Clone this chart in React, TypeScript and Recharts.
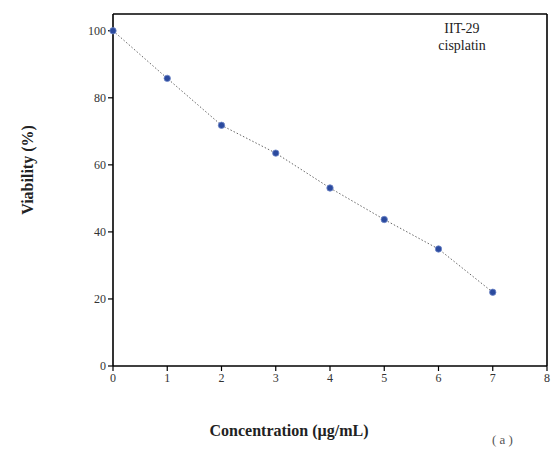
import { ComposedChart, Line, XAxis, YAxis, ReferenceLine } from 'recharts';

const concentrations = [0, 1, 2, 3, 4, 5, 6, 7];
const viability = [100, 85.8, 71.8, 63.5, 53.1, 43.7, 34.9, 22];
const xTicks = [0, 1, 2, 3, 4, 5, 6, 7, 8];
const yTicks = [0, 20, 40, 60, 80, 100];

const data = concentrations.map((c, i) => ({ c, v: viability[i] }));

const SERIF = '"Liberation Serif", "DejaVu Serif", serif';

function Dot(props: any) {
  const { cx, cy } = props;
  if (cx == null || cy == null) return null;
  return <circle cx={cx} cy={cy} r={3.2} fill="#2b4a9e" stroke="#6f86c8" strokeWidth={0.8} />;
}

export default function App() {
  return (
    <div style={{ position: 'absolute', left: 0, top: 0, width: 553, height: 451, background: '#fff', fontFamily: SERIF }}>
      <ComposedChart
        width={553}
        height={451}
        data={data}
        margin={{ top: 14, right: 6, bottom: 55, left: 53 }}
      >
        <XAxis
          type="number"
          dataKey="c"
          domain={[0, 8]}
          ticks={xTicks}
          interval={0}
          height={30}
          axisLine={{ stroke: '#000', strokeWidth: 1.6 }}
          tickLine={{ stroke: '#000', strokeWidth: 1.2 }}
          tickSize={5}
          tick={{ fontSize: 12, fill: '#333', fontFamily: SERIF }}
        />
        <YAxis
          type="number"
          domain={[0, 105]}
          ticks={yTicks}
          interval={0}
          width={60}
          axisLine={{ stroke: '#000', strokeWidth: 1.6 }}
          tickLine={{ stroke: '#000', strokeWidth: 1.2 }}
          tickSize={5}
          tick={{ fontSize: 12, fill: '#333', fontFamily: SERIF }}
        />
        <ReferenceLine y={105} stroke="#000" strokeWidth={1.6} />
        <ReferenceLine x={8} stroke="#000" strokeWidth={1.6} />
        <Line
          type="linear"
          dataKey="v"
          stroke="#666"
          strokeWidth={1}
          strokeDasharray="1.5 2"
          dot={<Dot />}
          activeDot={false}
          isAnimationActive={false}
        />
      </ComposedChart>
      <div style={{ position: 'absolute', left: 412, top: 20, width: 100, textAlign: 'center', fontSize: 14, lineHeight: '17px', color: '#222' }}>
        IIT-29
        <br />
        cisplatin
      </div>
      <div
        style={{
          position: 'absolute',
          left: 28,
          top: 170,
          transform: 'translate(-50%, -50%) rotate(-90deg)',
          whiteSpace: 'nowrap',
          fontSize: 16,
          fontWeight: 'bold',
          color: '#222',
        }}
      >
        Viability (%)
      </div>
      <div
        style={{
          position: 'absolute',
          left: 289,
          top: 431,
          transform: 'translate(-50%, -50%)',
          whiteSpace: 'nowrap',
          fontSize: 16,
          fontWeight: 'bold',
          color: '#222',
        }}
      >
        Concentration (µg/mL)
      </div>
      <div style={{ position: 'absolute', left: 492, top: 432, fontSize: 13, lineHeight: '15px', color: '#555' }}>( a )</div>
    </div>
  );
}
